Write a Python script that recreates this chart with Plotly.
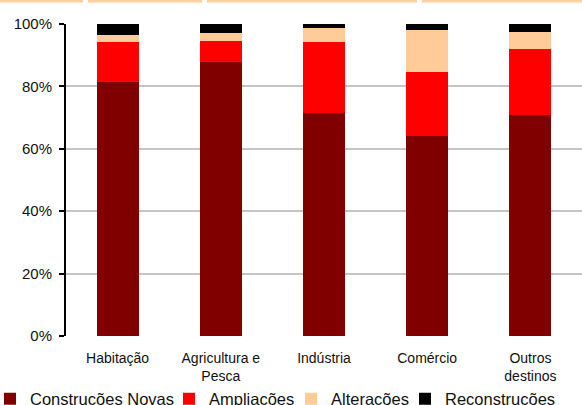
import plotly.graph_objects as go

categories = ["Habitação", "Agricultura e<br>Pesca", "Indústria", "Comércio", "Outros<br>destinos"]
series_names = ["Construções Novas", "Ampliações", "Alterações", "Reconstruções"]
construcoes_novas = [81.5, 87.8, 71.5, 64.2, 70.8]
ampliacoes = [12.7, 6.8, 22.7, 20.4, 21.2]
alteracoes = [2.3, 2.5, 4.5, 13.5, 5.4]
reconstrucoes = [3.5, 2.9, 1.3, 1.9, 2.6]
y_ticks = [0, 20, 40, 60, 80, 100]
y_tick_labels = ["0%", "20%", "40%", "60%", "80%", "100%"]

colors = ["#800000", "#ff0000", "#ffcc99", "#000000"]
series = [construcoes_novas, ampliacoes, alteracoes, reconstrucoes]
legend_ids = ["legend2", "legend3", "legend4", "legend5"]
legend_x_px = [-10, 169, 291, 405]

W, H = 582, 405
L, R, T, B = 66, 0, 24, 69
PW, PH = W - L - R, H - T - B
FONT = "Liberation Sans, Arial, sans-serif"

fig = go.Figure()
for name, vals, col, lg in zip(series_names, series, colors, legend_ids):
    fig.add_trace(go.Bar(x=categories, y=vals, name=name, marker=dict(color=col, line=dict(width=0)),
                         legend=lg, showlegend=True, hoverinfo="x+y+name"))

layout_legends = {}
for lg, px in zip(legend_ids, legend_x_px):
    layout_legends[lg] = dict(
        x=(px - L) / PW, xref="paper", xanchor="left",
        y=(H - B - 399) / PH, yref="paper", yanchor="middle",
        orientation="h", bgcolor="rgba(0,0,0,0)", borderwidth=0,
        font=dict(family=FONT, size=16.5, color="#111111"),
        itemwidth=30,
    )

fig.update_layout(
    width=W, height=H,
    showlegend=True,
    barmode="stack", bargap=0.593,
    paper_bgcolor="white", plot_bgcolor="white",
    margin=dict(l=L, r=R, t=T, b=B, autoexpand=False),
    font=dict(family=FONT, color="#111111"),
    xaxis=dict(showgrid=False, showline=False, ticks="", tickfont=dict(size=14, color="#111111"),
               ticklabelstandoff=12, fixedrange=True),
    yaxis=dict(range=[0, 100], tickvals=y_ticks, ticktext=y_tick_labels, showgrid=True,
               gridcolor="#c4c4c4", gridwidth=2, showline=True, linecolor="black", linewidth=2,
               ticks="outside", ticklen=5, tickwidth=2, tickcolor="black",
               tickfont=dict(size=15, color="#111111"), ticklabelstandoff=4, zeroline=False,
               fixedrange=True),
    **layout_legends,
)

# decorative top border segments (page tab strip)
for x0, x1 in [(0, 83), (88, 202), (207, 417), (422, 582)]:
    fig.add_shape(type="rect", xref="paper", yref="paper",
                  x0=(x0 - L) / PW, x1=(x1 - L) / PW,
                  y0=1 + 21.5 / PH, y1=1 + 24 / PH,
                  fillcolor="#fdd0a2", line=dict(width=0), layer="above")

fig.write_html("out.html")
